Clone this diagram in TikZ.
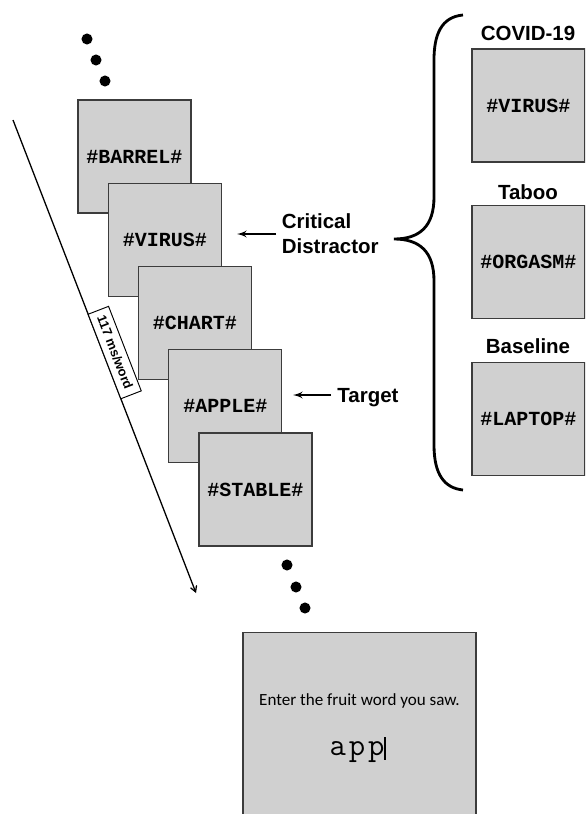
\documentclass[tikz,border=0pt]{standalone}
\usepackage{fontspec}
\usepackage{tikz}
\usetikzlibrary{shapes,arrows,calc}
\usepackage{color}
\newfontfamily\labelfont{Liberation Sans}
\newfontfamily\wordfont{Liberation Mono}
\newfontfamily\promptfont{Carlito}
\definecolor{cardfill}{RGB}{208,208,208}
\definecolor{cardline}{RGB}{60,60,60}

\begin{document}
\begin{tikzpicture}[auto, outer sep=0pt, node distance=0cm, >=latex', x=0.85pt, y=-0.85pt,
    card/.style={draw=cardline, line width=1.1pt, fill=cardfill, minimum width=96pt,
      minimum height=96pt, inner sep=0pt, font=\wordfont\bfseries\fontsize{17}{20}\selectfont},
    tag/.style={font=\labelfont\bfseries\fontsize{17.4}{21}\selectfont, inner sep=0pt},
    dot/.style={circle, fill=black, inner sep=0pt, minimum size=9.4pt}]

\useasboundingbox (0, 0) rectangle (585, 814);
\clip (0, 0) rectangle (585, 814);

% dots before the stream
\node at (87, 39) [dot] (DOT_A1) {};
\node at (96, 60) [dot] (DOT_A2) {};
\node at (105, 81) [dot] (DOT_A3) {};

% the word stream
\node at (134.5, 156.5) [card] (BARREL) {\#BARREL\#};
\node at (164.8, 239.8) [card] (VIRUS) {\#VIRUS\#};
\node at (195, 323) [card] (CHART) {\#CHART\#};
\node at (225.3, 406.3) [card] (APPLE) {\#APPLE\#};
\node at (255.5, 489.5) [card] (STABLE) {\#STABLE\#};

% dots after the stream
\node at (287, 565) [dot] (DOT_B1) {};
\node at (296, 587) [dot] (DOT_B2) {};
\node at (305, 608) [dot] (DOT_B3) {};

% time line
\coordinate (TIME_START) at (13, 120);
\coordinate (TIME_END) at (196, 593);
\draw [-angle 60, line width=1.1pt] (TIME_START) -- node [sloped, pos=0.5, draw, fill=white,
    line width=0.8pt, font=\labelfont\bfseries\fontsize{11}{13}\selectfont,
    text height=8pt, text depth=1pt, inner xsep=5.5pt, inner ysep=4.8pt] (RATE)
    {117 ms/word} (TIME_END);

% labels on the stream
\node at (276, 234) [tag, anchor=west, align=left, inner xsep=5pt] (CRIT) {Critical\\Distractor};
\coordinate (CRIT_TIP) at (237, 234);
\draw [->, line width=1.8pt] (CRIT.west) -- (CRIT_TIP);

\node at (331, 395) [tag, anchor=west, inner xsep=5.5pt, text depth=0pt] (TARGET) {Target};
\coordinate (TARGET_TIP) at (293, 395);
\draw [->, line width=1.8pt] (TARGET.west) -- (TARGET_TIP);

% brace
\coordinate (BRACE_TIP) at (394, 239);
\draw [line width=2.4pt] (463, 15) .. controls (441, 17) and (434, 35) .. (434, 60)
    -- (434, 197) .. controls (434, 226) and (420, 239) .. (BRACE_TIP)
    .. controls (420, 239) and (434, 252) .. (434, 281)
    -- (434, 445) .. controls (434, 474) and (444, 488) .. (463, 490);

% distractor conditions
\node at (528, 40) [tag, anchor=base] (COVID_LBL) {COVID-19};
\node at (528.5, 105.5) [card] (COVID) {\#VIRUS\#};
\node at (528, 199) [tag, anchor=base] (TABOO_LBL) {Taboo};
\node at (528.5, 262) [card] (TABOO) {\#ORGASM\#};
\node at (528, 353) [tag, anchor=base] (BASE_LBL) {Baseline};
\node at (528.5, 419) [card] (BASELINE) {\#LAPTOP\#};

% response screen
\node at (359.5, 731) [card, minimum width=198pt, minimum height=168pt] (RESPONSE) {};
\node at (359.5, 705) [anchor=base, inner sep=0pt, font=\promptfont\fontsize{14.5}{17}\selectfont]
    (PROMPT) {Enter the fruit word you saw.};
\node at (358, 755) [anchor=base, inner sep=0pt, font=\ttfamily\fontsize{27}{31}\selectfont]
    (ANSWER) {a\hspace{2.5pt}p\hspace{2.5pt}p\rule[-4.2pt]{1.7pt}{19.5pt}};
\end{tikzpicture}
\end{document}
